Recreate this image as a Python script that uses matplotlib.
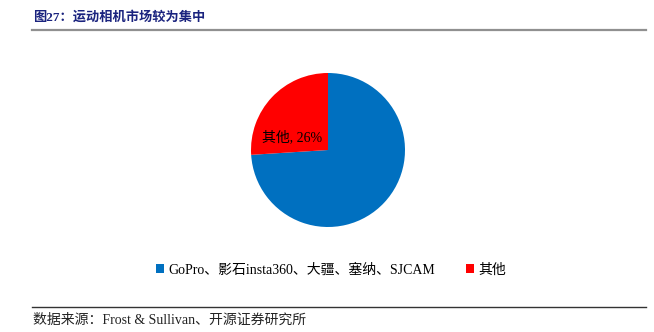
import matplotlib
matplotlib.use("Agg")
import matplotlib.pyplot as plt
from matplotlib.lines import Line2D

plt.rcParams['font.family'] = ['Liberation Serif', 'Noto Sans CJK SC', 'DejaVu Sans']

title = "图27：运动相机市场较为集中"
source = "数据来源：Frost & Sullivan、开源证券研究所"
categories = ["GoPro、影石insta360、大疆、塞纳、SJCAM", "其他"]
values = [74, 26]
colors = ["#0070C0", "#FF0000"]

W, H = 654, 332
fig = plt.figure(figsize=(W / 100, H / 100), dpi=100)

# pie axes: center (328,150) px, radius 77 px
cx, cy, r = 328, 150, 77
ax = fig.add_axes([(cx - r) / W, (H - cy - r) / H, 2 * r / W, 2 * r / H])
wedges, _ = ax.pie(values, colors=colors, startangle=90, counterclock=False,
                   wedgeprops=dict(linewidth=0))
ax.set_xlim(-1, 1)
ax.set_ylim(-1, 1)
ax.set_aspect('equal')
ax.axis('off')

ax.text(-0.47, 0.16, f"{categories[1]}, {values[1]}%", ha='center', va='center',
        fontsize=10, color='black')

leg = fig.legend(wedges, categories, loc='center', bbox_to_anchor=(0.506, 1 - 270 / H),
                 ncol=2, frameon=False, fontsize=10, handlelength=0.6, handleheight=0.6,
                 handletextpad=0.3, columnspacing=2.2)

fig.text(33 / W, 1 - 17 / H, title, fontsize=9.5, fontweight='bold', color='#1A237E',
         ha='left', va='center')
fig.add_artist(Line2D([32 / W, 646 / W], [1 - 30 / H, 1 - 30 / H], color='#909090', linewidth=1.6))
fig.add_artist(Line2D([32 / W, 646 / W], [1 - 307 / H, 1 - 307 / H], color='#333333', linewidth=1.0))
fig.text(33 / W, 1 - 320 / H, source, fontsize=10, color='#222222', ha='left', va='center')

fig.savefig("out.png", dpi=100)
